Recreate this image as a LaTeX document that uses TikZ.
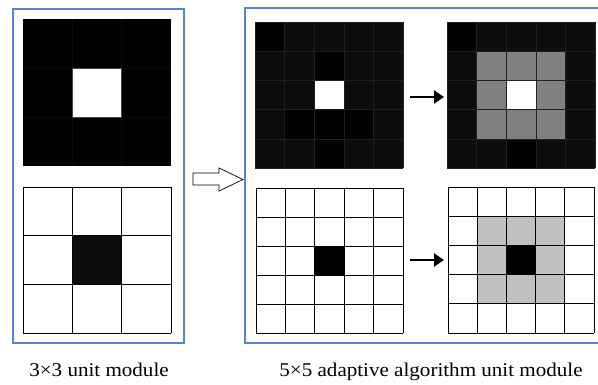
\documentclass[tikz,border=0pt]{standalone}
\usepackage{fontspec}
\setmainfont{Liberation Serif}
\usetikzlibrary{positioning}
\usetikzlibrary{arrows.meta}

\definecolor{frameblue}{RGB}{88,130,212}
\definecolor{nearblack}{HTML}{0D0D0D}
\definecolor{midgray}{HTML}{808080}
\definecolor{palegray}{HTML}{C0C0C0}

\tikzset{
  frame/.style={draw=frameblue, line width=1.3pt},
  softgrid/.style={draw=gray!25!black, line width=0.4pt},
  faintgrid/.style={draw=gray!8!black, line width=0.4pt},
  hardgrid/.style={draw=black, line width=0.8pt},
  darrow/.style={line width=2pt, -{Triangle[length=10pt,width=13pt]}},
  hollow/.style={draw=black, fill=white, line width=0.7pt},
  caption/.style={anchor=base, font=\fontsize{19.5}{22}\selectfont, xscale=1.08}
}

\begin{document}
\begin{tikzpicture}[x=1pt,y=-1pt]
 \useasboundingbox (0,0) rectangle (598,385);
 \clip (0,0) rectangle (598,385);
 \fill[white] (0,0) rectangle (598,385);

 % frames
 \draw[frame] (13,9) rectangle (184,343);
 \draw[frame] (245,8) rectangle (610,343);

 % 3x3 unit module, pattern
 \begin{scope}[shift={(23,19)}, x=49.3pt, y=-49pt]
  \fill[black] (0,0) rectangle (3,3);
  \foreach \k in {1,2} {\draw[faintgrid] (\k,0) -- (\k,3); \draw[faintgrid] (0,\k) -- (3,\k);}
  \fill[white] (1,1) rectangle (2,2);
  \draw[draw=gray!60!black, line width=0.4pt] (1,1) rectangle (2,2);
 \end{scope}

 % 3x3 unit module, mask
 \begin{scope}[shift={(23,187)}, x=49.3pt, y=-48.7pt]
  \fill[nearblack] (1,1) rectangle (2,2);
  \foreach \k in {0,...,3} {\draw[hardgrid] (\k,0) -- (\k,3); \draw[hardgrid] (0,\k) -- (3,\k);}
 \end{scope}

 % 5x5 pattern before
 \begin{scope}[shift={(255,22)}, x=29.6pt, y=-29.2pt]
  \fill[nearblack] (0,0) rectangle (5,5);
  \fill[black] (0,0) rectangle (1,1);
  \fill[black] (2,1) rectangle (3,2);
  \fill[black] (1,3) rectangle (4,4);
  \fill[black] (2,4) rectangle (3,5);
  \fill[white] (2,2) rectangle (3,3);
  \foreach \k in {0,...,5} {\draw[softgrid] (\k,0) -- (\k,5); \draw[softgrid] (0,\k) -- (5,\k);}
 \end{scope}

 % 5x5 pattern after
 \begin{scope}[shift={(447,22)}, x=29.6pt, y=-29.2pt]
  \fill[nearblack] (0,0) rectangle (5,5);
  \fill[black] (0,0) rectangle (1,1);
  \fill[black] (2,4) rectangle (3,5);
  \fill[midgray] (1,1) rectangle (4,4);
  \fill[white] (2,2) rectangle (3,3);
  \foreach \k in {0,...,5} {\draw[softgrid] (\k,0) -- (\k,5); \draw[softgrid] (0,\k) -- (5,\k);}
 \end{scope}

 % 5x5 mask before
 \begin{scope}[shift={(256,188)}, x=29.4pt, y=-29pt]
  \fill[black] (2,2) rectangle (3,3);
  \foreach \k in {0,...,5} {\draw[hardgrid] (\k,0) -- (\k,5); \draw[hardgrid] (0,\k) -- (5,\k);}
 \end{scope}

 % 5x5 mask after
 \begin{scope}[shift={(448,187)}, x=29.2pt, y=-29.2pt]
  \fill[palegray] (1,1) rectangle (4,4);
  \fill[black] (2,2) rectangle (3,3);
  \foreach \k in {0,...,5} {\draw[hardgrid] (\k,0) -- (\k,5); \draw[hardgrid] (0,\k) -- (5,\k);}
 \end{scope}

 % arrows
 \coordinate (pbefore) at (410,97);
 \coordinate (pafter) at (444,97);
 \coordinate (mbefore) at (410,260);
 \coordinate (mafter) at (444,260);
 \draw[darrow] (pbefore) -- (pafter);
 \draw[darrow] (mbefore) -- (mafter);
 \draw[hollow] (193,173) -- (219,173) -- (219,168) -- (243,179.5) -- (219,191) -- (219,185) -- (193,185) -- cycle;

 % captions
 \node[caption] (cap3) at (99,376) {3×3 unit module};
 \node[caption] (cap5) at (431,376) {5×5 adaptive algorithm unit module};
\end{tikzpicture}
\end{document}
